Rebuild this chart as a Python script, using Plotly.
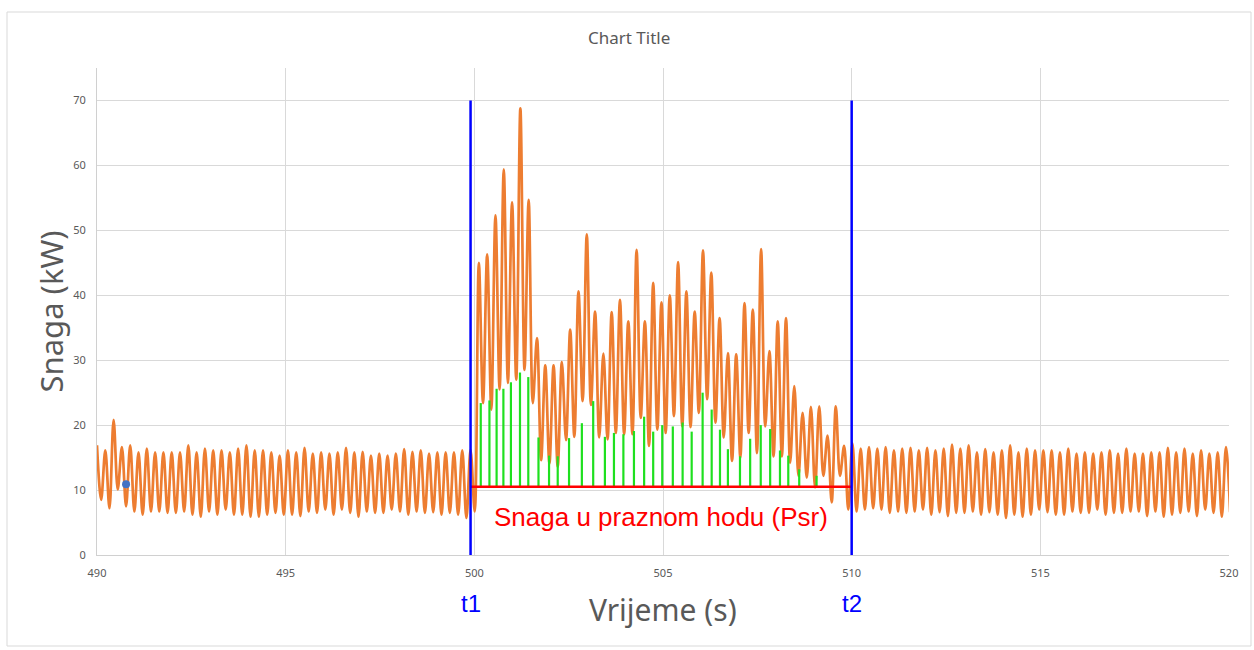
import plotly.graph_objects as go

# ---------------- data ----------------
START_TIME = 490.0          # s, time of first sample (a peak)
SAMPLE_STEP = 0.11          # s between successive peak / trough samples

# power at successive peaks (kW)
peaks = [
    16.9, 16.1, 20.8, 16.6, 16.9, 15.8, 16.4, 15.8, 15.8, 15.8, 15.8, 16.9, 15.8, 16.4, 16.1, 16.1,
    15.8, 16.4, 16.9, 16.1, 16.1, 15.8, 15.3,
    16.1, 15.8, 16.5, 15.6, 15.8, 15.6, 15.8, 16.5, 15.8, 15.9, 15.3, 15.6, 15.3, 15.6, 16.3, 15.9,
    16.1, 15.6, 15.8, 15.8, 15.8, 16.1,
    16.2,
    45.0, 46.3, 52.3, 59.4, 54.3, 68.8, 54.7, 33.4, 29.2, 29.2, 29.7, 34.7, 40.6, 49.4,
    37.5, 31.0, 37.4, 39.3, 36.0, 47.0, 36.0, 41.9, 38.9, 40.0, 45.1, 40.6, 37.5, 46.9,
    43.5, 36.5, 31.1, 30.9, 38.8, 37.8, 47.1, 31.4, 36.0, 36.5, 26.0, 21.9, 22.8, 22.9, 18.4, 22.9,
    16.8, 17.2,
    16.4, 16.6, 16.4, 16.6, 16.1, 16.4, 16.5, 16.1, 16.5, 16.1, 16.4, 17.0, 16.4, 16.9, 15.8, 16.3,
    15.8, 16.1, 16.9, 15.8, 16.4, 16.1,
    16.1, 16.1, 15.8, 16.4, 15.6, 15.8, 15.6, 15.8, 16.1, 15.6, 16.4, 15.6, 15.6, 15.8, 15.8, 16.5,
    15.8, 16.4, 15.6, 16.1, 15.6, 15.8, 16.6,
]

# power at successive troughs (kW), each following the peak of the same index
troughs = [
    8.5, 7.2, 10.1, 7.5, 6.7, 6.2, 6.7, 6.7, 6.5, 6.5, 6.7, 6.2, 5.9, 6.7, 6.2, 7.0, 6.2, 6.2, 5.9,
    5.9, 6.2, 6.5, 6.2,
    6.2, 6.0, 6.7, 6.5, 7.0, 6.2, 7.0, 6.5, 5.9, 6.7, 6.5, 6.5, 7.0, 6.7, 6.2, 6.7, 6.5, 6.6, 6.2,
    6.5, 6.2, 5.7,
    6.7,
    23.4, 22.4, 25.5, 26.5, 27.0, 28.5, 23.4, 14.6, 14.1, 13.6, 17.7, 18.2, 23.7, 23.1,
    18.1, 17.8, 18.8, 18.6, 18.6, 21.1, 16.8, 19.3, 18.8, 21.4, 19.8, 19.7, 21.9, 24.0,
    20.4, 18.1, 14.5, 15.0, 18.8, 15.7, 19.8, 15.2, 15.2, 14.2, 12.2, 11.9, 10.4, 12.2, 8.1, 12.2,
    7.0,
    6.7, 7.0, 7.2, 7.0, 6.5, 6.7, 6.5, 6.7, 7.0, 6.2, 6.6, 6.0, 6.5, 6.5, 6.7, 6.2, 6.6, 6.2, 5.7,
    6.2, 5.9, 6.2, 7.0,
    6.6, 6.2, 6.2, 6.7, 6.5, 6.5, 7.0, 6.2, 6.5, 6.5, 6.7, 6.7, 6.0, 6.7, 5.9, 6.2, 6.5, 6.7, 6.0,
    7.0, 6.5, 5.9,
    6.6,
]

# green hatch lines (time in s, top value in kW)
green_t = [
    500.17, 500.40, 500.59, 500.77, 500.97, 501.21, 501.43, 501.70, 501.98, 502.21, 502.51, 502.85,
    503.15, 503.46, 503.70, 503.95, 504.23, 504.50, 504.74, 504.98, 505.26, 505.52, 505.76, 506.05,
    506.29, 506.51, 506.72, 507.04, 507.31, 507.59, 507.84, 508.10, 508.32, 508.61, 509.07,
]
green_h = [
    23.4, 23.8, 25.6, 25.6, 26.6, 28.1, 27.4, 18.1, 15.3, 15.2, 18.0, 20.3,
    23.7, 18.2, 18.8, 18.6, 19.1, 21.3, 19.0, 20.0, 19.8, 20.4, 19.0, 25.0,
    22.4, 19.3, 16.3, 15.2, 17.9, 20.0, 19.4, 16.1, 15.3, 13.2, 12.2,
]

T1 = 499.9        # start of the load interval (s)
T2 = 510.0        # end of the load interval (s)
P_SR = 10.5       # idle power level (kW)
MARKER_TOP = 70   # top of the t1 / t2 marker lines (kW)

point_t = [490.77]   # single series-1 point
point_v = [10.9]

x_ticks = [490, 495, 500, 505, 510, 515, 520]
y_ticks = [0, 10, 20, 30, 40, 50, 60, 70]
X_RANGE = [490, 520]
Y_RANGE = [0, 75]

# ---------------- build traces ----------------
values = []
for k in range(len(peaks)):
    values.append(peaks[k])
    if k < len(troughs):
        values.append(troughs[k])
times = [START_TIME + SAMPLE_STEP * i for i in range(len(values))]

GRAY = "#595959"
GRID = "#D9D9D9"
FONT = "Noto Sans"

fig = go.Figure()

fig.add_trace(go.Scatter(
    x=times, y=values, mode="lines",
    line=dict(color="#ED7D31", width=2.7, shape="spline", smoothing=1.0),
    hoverinfo="skip", showlegend=False,
))

gx, gy = [], []
for t, h in zip(green_t, green_h):
    gx += [t, t, None]
    gy += [P_SR, h, None]
fig.add_trace(go.Scatter(
    x=gx, y=gy, mode="lines",
    line=dict(color="#1FE01F", width=2.2),
    hoverinfo="skip", showlegend=False,
))

fig.add_trace(go.Scatter(
    x=[T1, T2], y=[P_SR, P_SR], mode="lines",
    line=dict(color="#FF0000", width=2.5),
    hoverinfo="skip", showlegend=False,
))

for tm in (T1, T2):
    fig.add_trace(go.Scatter(
        x=[tm, tm], y=[0, MARKER_TOP], mode="lines",
        line=dict(color="#0000FF", width=2.5),
        hoverinfo="skip", showlegend=False,
    ))

fig.add_trace(go.Scatter(
    x=point_t, y=point_v, mode="markers",
    marker=dict(color="#4472C4", size=8),
    hoverinfo="skip", showlegend=False,
))

# ---------------- layout ----------------
annotations = [
    dict(text="Chart Title", xref="paper", yref="paper", x=0.4696, y=1.0 + (68 - 37) / 487,
         showarrow=False, font=dict(family=FONT, size=17, color=GRAY), xanchor="center", yanchor="middle"),
    dict(text="Snaga (kW)", xref="paper", yref="paper", x=(50 - 97) / 1132, y=0.5,
         textangle=-90, showarrow=False, font=dict(family=FONT, size=31, color=GRAY),
         xanchor="center", yanchor="middle"),
    dict(text="Vrijeme (s)", xref="x", yref="paper", x=505, y=-(609 - 555) / 487,
         showarrow=False, font=dict(family=FONT, size=30, color=GRAY), xanchor="center", yanchor="middle"),
    dict(text="t1", xref="x", yref="paper", x=T1, y=-(603 - 555) / 487,
         showarrow=False, font=dict(family="Liberation Sans", size=24, color="#0000FF"),
         xanchor="center", yanchor="middle"),
    dict(text="t2", xref="x", yref="paper", x=T2, y=-(603 - 555) / 487,
         showarrow=False, font=dict(family="Liberation Sans", size=24, color="#0000FF"),
         xanchor="center", yanchor="middle"),
    dict(text="Snaga u praznom hodu (Psr)", xref="x", yref="y", x=(T1 + T2) / 2, y=5.9,
         showarrow=False, font=dict(family="Liberation Sans", size=26, color="#FF0000"),
         xanchor="center", yanchor="middle"),
]

shapes = [
    dict(type="rect", xref="paper", yref="paper",
         x0=(7 - 97) / 1132, x1=(1251 - 97) / 1132,
         y0=-(646 - 555) / 487, y1=(555 - 12) / 487,
         line=dict(color="#D9D9D9", width=1), fillcolor="rgba(0,0,0,0)", layer="below"),
]

fig.update_layout(
    width=1254, height=650,
    margin=dict(l=97, r=25, t=68, b=95, pad=0),
    paper_bgcolor="white", plot_bgcolor="white",
    annotations=annotations, shapes=shapes,
    xaxis=dict(range=X_RANGE, tickvals=x_ticks, ticktext=[str(v) for v in x_ticks],
               showgrid=True, gridcolor=GRID, gridwidth=1, zeroline=False,
               showline=True, linecolor="#D0D0D0", linewidth=1, ticks="",
               ticklabelstandoff=8,
               tickfont=dict(family=FONT, size=11, color=GRAY)),
    yaxis=dict(range=Y_RANGE, tickvals=y_ticks, ticktext=[str(v) for v in y_ticks],
               showgrid=True, gridcolor=GRID, gridwidth=1, zeroline=False,
               showline=True, linecolor="#D0D0D0", linewidth=1, ticks="",
               ticklabelstandoff=8,
               tickfont=dict(family=FONT, size=11, color=GRAY)),
)

fig.write_html("out.html", config={"displayModeBar": False},
               post_script="document.body.style.margin='0';document.body.style.overflow='hidden';")
